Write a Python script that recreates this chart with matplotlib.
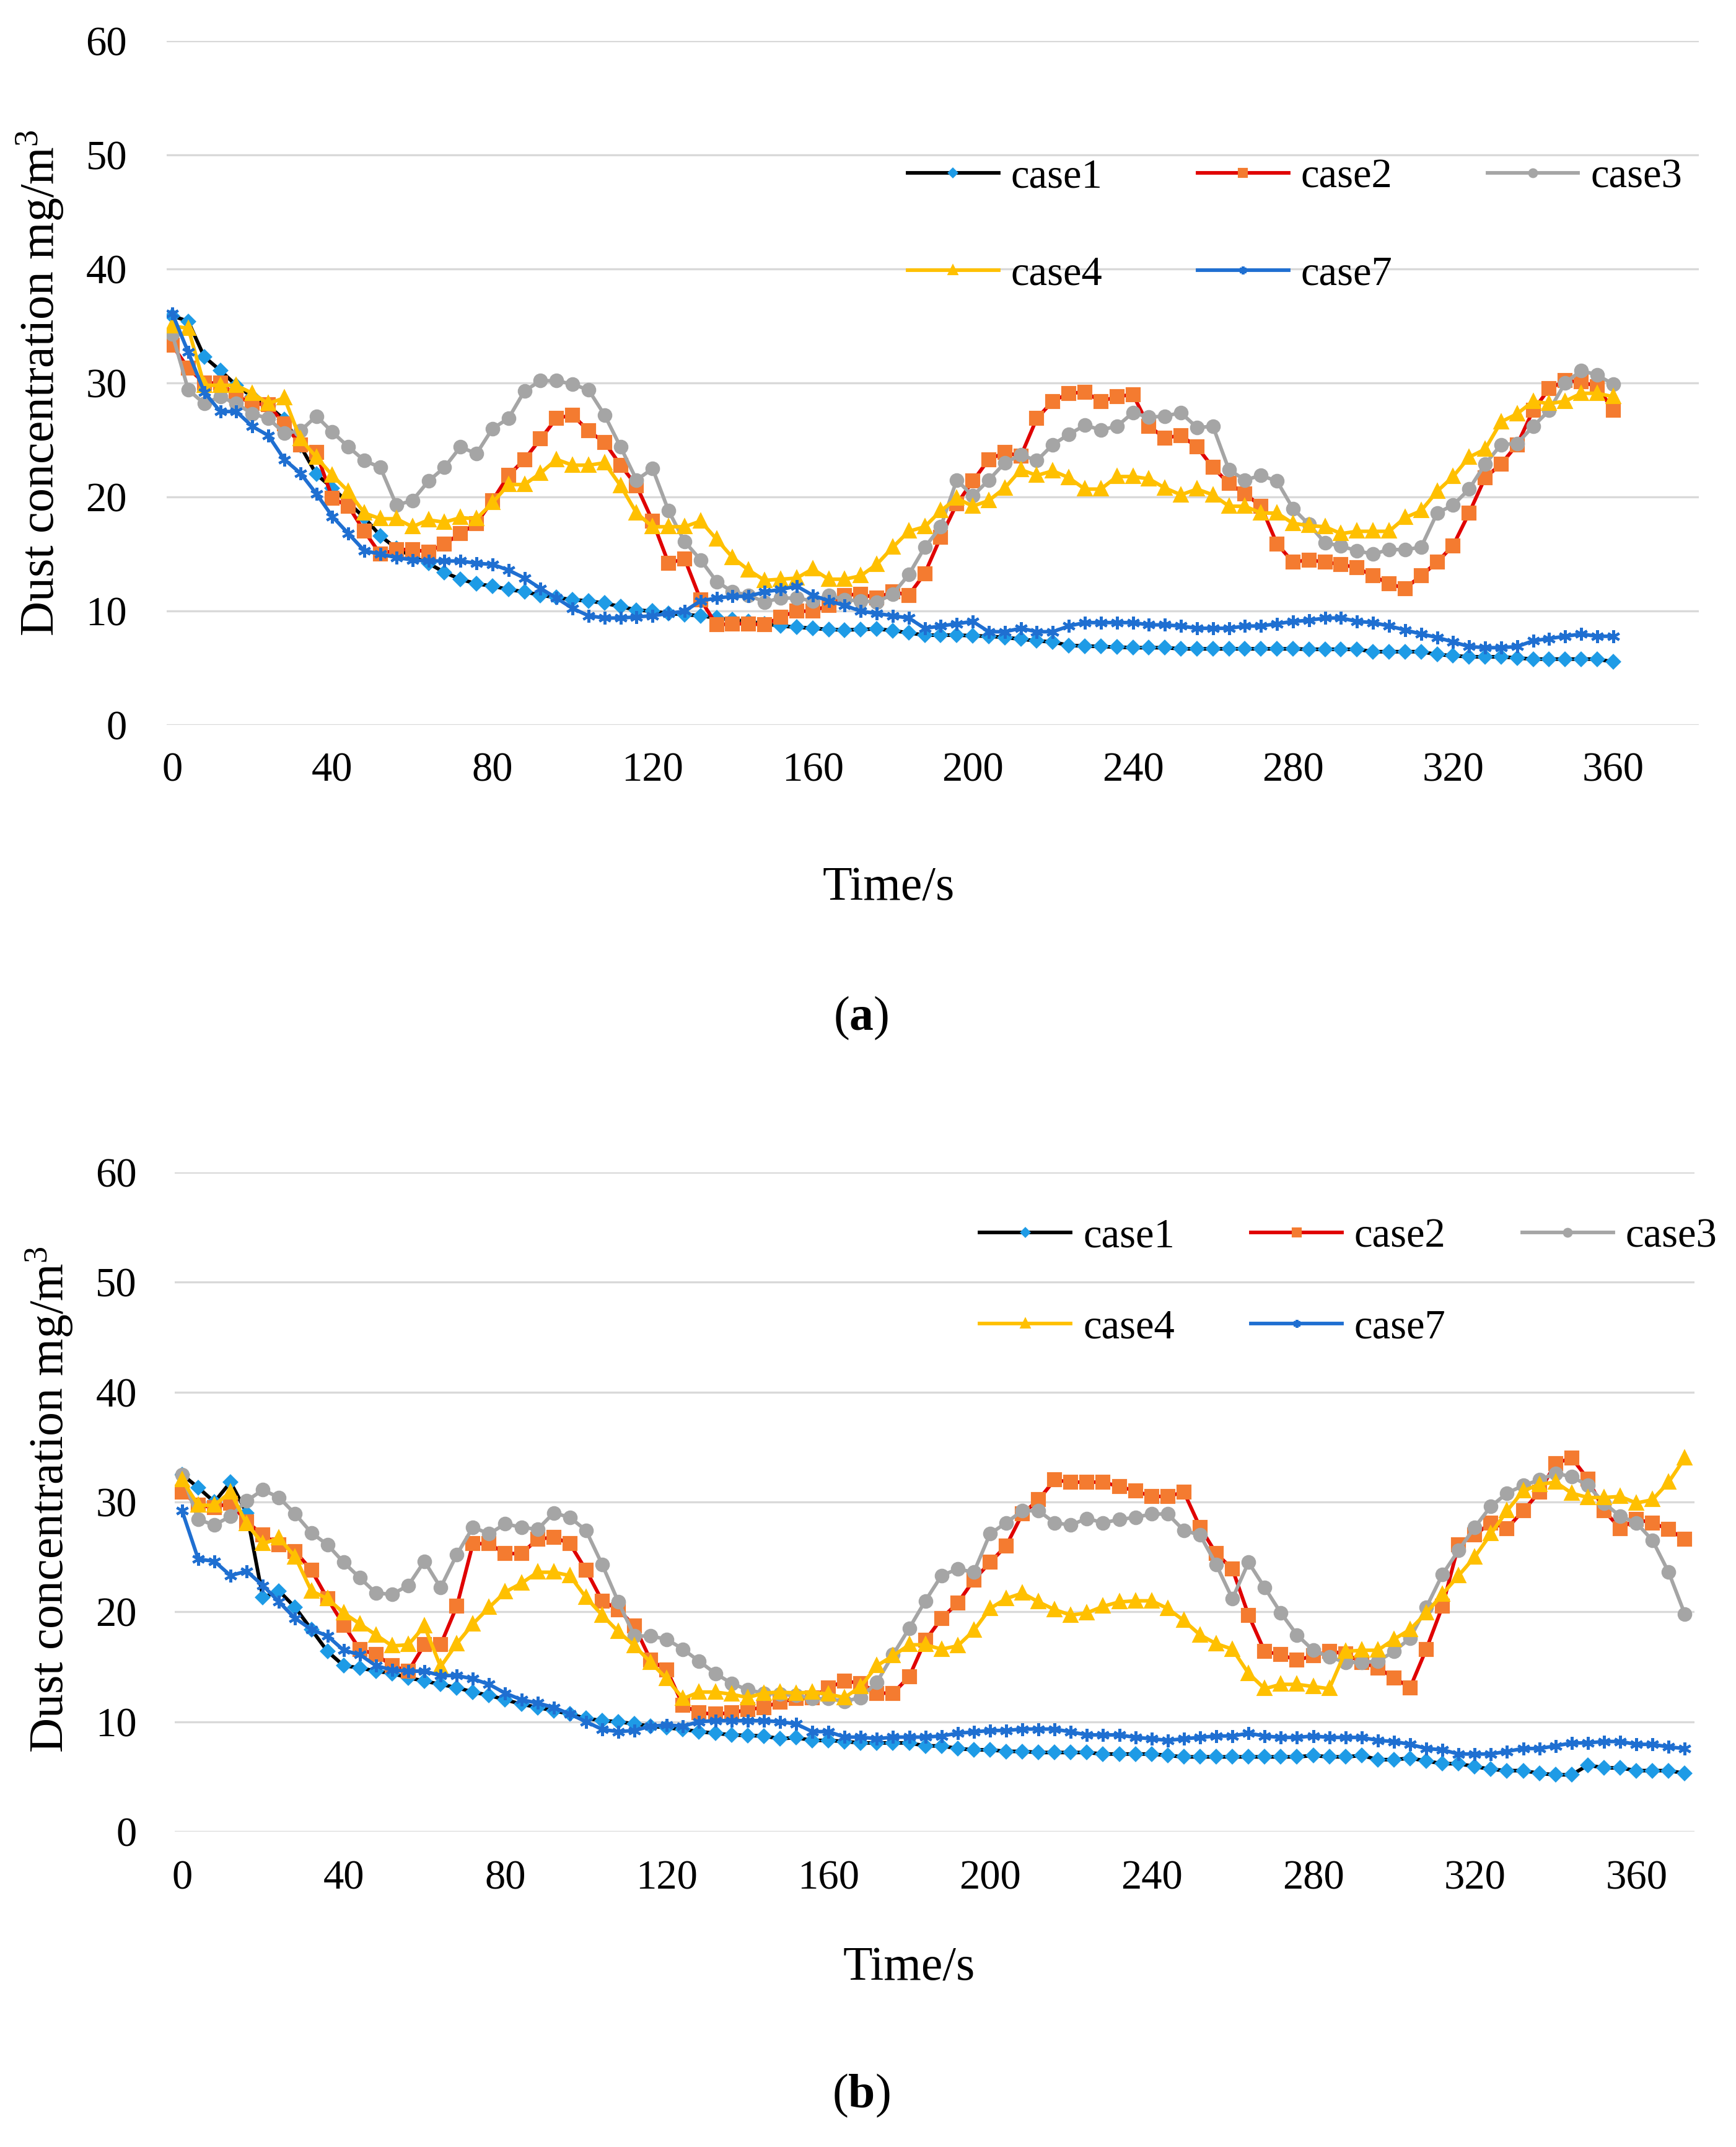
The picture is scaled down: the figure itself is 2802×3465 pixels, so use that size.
import numpy as np
import matplotlib
matplotlib.use("Agg")
import matplotlib.pyplot as plt

plt.rcParams["font.family"] = ["Liberation Serif", "DejaVu Serif"]
plt.rcParams["mathtext.fontset"] = "custom"
plt.rcParams["mathtext.rm"] = "Liberation Serif"
plt.rcParams["mathtext.bf"] = "Liberation Serif:bold"
plt.rcParams["mathtext.it"] = "Liberation Serif:italic"

# time stamps (s), one sample every 4 s
time_a = np.arange(0, 361, 4)
time_b = np.arange(0, 373, 4)
xticks = [0, 40, 80, 120, 160, 200, 240, 280, 320, 360]
yticks = [0, 10, 20, 30, 40, 50, 60]
labels = ["case1", "case2", "case3", "case4", "case7"]

# ---- panel (a) ----
a_case1 = [35.9, 35.4, 32.3, 31.1, 29.8, 28.8, 28.0, 26.8, 24.5, 22.0,
           20.8, 19.5, 18.2, 16.6, 15.5, 14.8, 14.2, 13.4, 12.8, 12.4,
           12.2, 11.9, 11.7, 11.4, 11.2, 11.0, 10.9, 10.7, 10.4, 10.1,
           10.0, 9.8, 9.7, 9.6, 9.4, 9.25, 9.1, 8.9, 8.7, 8.6,
           8.5, 8.4, 8.35, 8.4, 8.45, 8.3, 8.1, 7.9, 7.9, 7.9,
           7.85, 7.8, 7.7, 7.55, 7.4, 7.3, 7.0, 6.95, 6.9, 6.85,
           6.8, 6.8, 6.8, 6.7, 6.7, 6.7, 6.7, 6.7, 6.7, 6.7,
           6.7, 6.66, 6.66, 6.66, 6.66, 6.45, 6.45, 6.45, 6.45, 6.2,
           6.1, 6.0, 6.0, 6.0, 5.9, 5.8, 5.8, 5.8, 5.8, 5.8,
           5.55]
a_case2 = [33.3, 31.3, 30.0, 30.0, 28.9, 28.2, 28.1, 26.4, 24.6, 23.9,
           19.9, 19.2, 17.0, 15.0, 15.4, 15.4, 15.2, 15.9, 16.8, 17.7,
           19.7, 21.9, 23.3, 25.1, 26.9, 27.2, 25.8, 24.8, 22.8, 21.0,
           17.9, 14.2, 14.6, 11.0, 8.8, 8.9, 8.9, 8.8, 9.5, 10.0,
           10.0, 10.5, 11.4, 11.5, 11.15, 11.7, 11.4, 13.3, 16.5, 19.4,
           21.4, 23.3, 23.9, 23.6, 26.9, 28.4, 29.1, 29.2, 28.4, 28.8,
           29.0, 26.2, 25.2, 25.4, 24.4, 22.6, 21.2, 20.3, 19.2, 15.9,
           14.3, 14.5, 14.3, 14.1, 13.8, 13.1, 12.4, 12.0, 13.1, 14.3,
           15.75, 18.6, 21.7, 22.9, 24.6, 27.6, 29.5, 30.2, 30.1, 29.7,
           27.6]
a_case3 = [34.3, 29.4, 28.2, 28.8, 28.2, 27.3, 26.9, 25.6, 25.8, 27.1,
           25.7, 24.4, 23.2, 22.6, 19.3, 19.7, 21.4, 22.6, 24.4, 23.8,
           26.0, 26.9, 29.3, 30.2, 30.2, 29.9, 29.4, 27.2, 24.4, 21.5,
           22.5, 18.8, 16.1, 14.5, 12.6, 11.7, 11.4, 10.8, 11.15, 11.15,
           10.9, 11.4, 11.0, 10.9, 10.8, 11.5, 13.2, 15.6, 17.4, 21.5,
           20.1, 21.5, 23.0, 23.7, 23.2, 24.6, 25.5, 26.3, 25.9, 26.2,
           27.4, 27.0, 27.1, 27.4, 26.1, 26.2, 22.4, 21.5, 21.9, 21.4,
           19.0, 17.6, 16.0, 15.7, 15.3, 15.0, 15.4, 15.4, 15.6, 18.6,
           19.3, 20.7, 22.9, 24.6, 24.7, 26.2, 27.6, 30.0, 31.1, 30.7,
           29.9]
a_case4 = [35.0, 34.8, 29.8, 29.8, 29.8, 29.1, 28.2, 28.7, 25.1, 23.5,
           21.9, 20.5, 18.6, 18.1, 18.1, 17.4, 18.0, 17.8, 18.2, 18.1,
           19.5, 21.1, 21.1, 22.1, 23.3, 22.8, 22.8, 23.0, 21.0, 18.6,
           17.4, 17.4, 17.4, 17.9, 16.3, 14.7, 13.6, 12.7, 12.8, 12.9,
           13.7, 12.8, 12.8, 13.1, 14.1, 15.6, 17.0, 17.4, 18.8, 19.9,
           19.2, 19.7, 20.8, 22.4, 21.9, 22.3, 21.7, 20.7, 20.7, 21.8,
           21.8, 21.6, 20.8, 20.2, 20.7, 20.2, 19.2, 19.2, 18.6, 18.6,
           17.7, 17.5, 17.4, 16.8, 17.0, 17.0, 17.0, 18.2, 18.8, 20.5,
           21.8, 23.5, 24.2, 26.6, 27.3, 28.4, 28.2, 28.4, 29.1, 29.1,
           28.8]
a_case7 = [36.1, 32.7, 29.2, 27.5, 27.5, 26.2, 25.4, 23.3, 22.1, 20.3,
           18.3, 16.8, 15.3, 15.0, 14.7, 14.5, 14.4, 14.4, 14.4, 14.2,
           14.1, 13.6, 12.9, 12.0, 11.15, 10.25, 9.6, 9.4, 9.4, 9.5,
           9.6, 9.8, 10.0, 10.9, 11.15, 11.3, 11.3, 11.7, 11.9, 12.2,
           11.4, 10.9, 10.5, 10.0, 9.8, 9.6, 9.4, 8.5, 8.7, 8.9,
           9.1, 8.2, 8.2, 8.5, 8.2, 8.2, 8.7, 9.0, 9.0, 9.0,
           9.0, 8.8, 8.8, 8.7, 8.5, 8.5, 8.5, 8.7, 8.7, 8.9,
           9.1, 9.2, 9.4, 9.4, 9.1, 9.0, 8.7, 8.35, 8.0, 7.7,
           7.3, 6.9, 6.8, 6.8, 6.9, 7.4, 7.6, 7.8, 8.0, 7.8,
           7.8]

# ---- panel (b) ----
b_case1 = [32.5, 31.3, 30.0, 31.8, 29.0, 21.3, 21.9, 20.4, 18.4, 16.4,
           15.1, 14.9, 14.6, 14.4, 14.0, 13.7, 13.4, 13.1, 12.7, 12.4,
           12.0, 11.6, 11.3, 11.0, 10.7, 10.3, 10.1, 10.0, 9.8, 9.6,
           9.45, 9.3, 9.1, 8.95, 8.8, 8.75, 8.7, 8.45, 8.55, 8.3,
           8.3, 8.2, 8.07, 8.07, 8.07, 8.07, 7.8, 7.8, 7.56, 7.44,
           7.44, 7.3, 7.3, 7.2, 7.2, 7.2, 7.2, 7.06, 7.06, 7.06,
           7.06, 6.93, 6.8, 6.8, 6.8, 6.8, 6.8, 6.8, 6.8, 6.8,
           6.93, 6.8, 6.8, 6.93, 6.55, 6.55, 6.68, 6.43, 6.18, 6.18,
           5.92, 5.67, 5.55, 5.55, 5.3, 5.17, 5.17, 6.05, 5.8, 5.8,
           5.55, 5.55, 5.55, 5.3]
b_case2 = [30.9, 29.7, 29.5, 29.9, 28.2, 27.0, 26.1, 25.5, 23.8, 21.2,
           18.8, 16.6, 16.1, 15.1, 14.6, 17.0, 17.0, 20.5, 26.2, 26.2,
           25.3, 25.3, 26.6, 26.8, 26.2, 23.8, 21.0, 20.2, 18.7, 15.6,
           14.7, 11.5, 10.8, 10.7, 10.8, 11.1, 11.3, 11.8, 12.1, 12.2,
           13.1, 13.7, 13.5, 12.6, 12.6, 14.1, 17.4, 19.4, 20.8, 22.9,
           24.5, 26.0, 28.9, 30.2, 32.0, 31.8, 31.8, 31.8, 31.4, 31.0,
           30.5, 30.5, 30.9, 27.7, 25.3, 23.9, 19.7, 16.4, 16.1, 15.6,
           16.0, 16.4, 16.2, 15.4, 14.9, 14.0, 13.1, 16.6, 20.5, 26.1,
           27.0, 28.1, 27.6, 29.2, 30.9, 33.5, 34.0, 32.1, 29.2, 27.6,
           28.4, 28.1, 27.5, 26.6]
b_case3 = [32.5, 28.4, 27.9, 28.7, 30.1, 31.1, 30.4, 28.9, 27.2, 26.1,
           24.5, 23.1, 21.7, 21.6, 22.4, 24.6, 22.2, 25.2, 27.7, 27.1,
           28.0, 27.7, 27.5, 29.0, 28.6, 27.4, 24.3, 20.9, 17.8, 17.8,
           17.5, 16.6, 15.5, 14.4, 13.5, 12.9, 12.6, 12.5, 12.4, 12.1,
           12.1, 11.85, 12.2, 13.6, 16.1, 18.5, 21.0, 23.3, 23.9, 23.6,
           27.1, 28.1, 29.2, 29.2, 28.1, 27.9, 28.5, 28.1, 28.4, 28.6,
           28.9, 28.9, 27.4, 27.0, 24.3, 21.2, 24.5, 22.2, 19.9, 17.9,
           16.5, 15.9, 15.4, 15.4, 15.5, 16.4, 17.6, 20.4, 23.4, 25.6,
           27.7, 29.6, 30.8, 31.5, 32.0, 32.6, 32.3, 31.5, 29.9, 28.7,
           28.1, 26.5, 23.6, 19.8]
b_case4 = [32.0, 29.7, 29.7, 30.9, 28.0, 26.2, 26.7, 25.0, 21.9, 21.2,
           19.9, 18.9, 17.9, 16.9, 17.0, 18.7, 15.0, 17.1, 18.9, 20.4,
           21.8, 22.6, 23.6, 23.6, 23.3, 21.3, 19.7, 18.2, 16.9, 15.4,
           13.9, 12.1, 12.7, 12.7, 12.5, 12.2, 12.6, 12.7, 12.6, 12.7,
           12.5, 12.2, 13.2, 15.1, 16.0, 17.0, 17.0, 16.6, 16.9, 18.3,
           20.3, 21.2, 21.7, 20.9, 20.2, 19.7, 19.9, 20.5, 20.9, 21.0,
           21.0, 20.3, 19.2, 17.9, 17.1, 16.6, 14.4, 13.0, 13.4, 13.4,
           13.2, 13.0, 16.4, 16.5, 16.5, 17.5, 18.4, 19.9, 21.6, 23.3,
           25.0, 27.1, 29.2, 31.0, 31.6, 31.8, 30.8, 30.4, 30.4, 30.5,
           29.9, 30.2, 31.8, 34.0]
b_case7 = [29.2, 24.8, 24.6, 23.3, 23.7, 22.4, 20.9, 19.4, 18.4, 17.8,
           16.5, 16.1, 15.1, 14.7, 14.6, 14.6, 14.2, 14.2, 13.9, 13.4,
           12.6, 12.0, 11.7, 11.3, 10.7, 10.0, 9.3, 9.1, 9.2, 9.6,
           9.7, 9.6, 10.0, 10.1, 10.1, 10.1, 10.1, 10.0, 9.8, 9.1,
           9.1, 8.6, 8.6, 8.45, 8.6, 8.6, 8.6, 8.7, 8.95, 9.07,
           9.2, 9.2, 9.33, 9.33, 9.33, 9.07, 8.8, 8.8, 8.8, 8.57,
           8.45, 8.3, 8.45, 8.57, 8.7, 8.7, 8.95, 8.7, 8.57, 8.57,
           8.7, 8.57, 8.57, 8.57, 8.3, 8.2, 7.94, 7.56, 7.44, 7.06,
           7.06, 7.06, 7.3, 7.56, 7.56, 7.8, 8.07, 8.07, 8.2, 8.2,
           7.94, 7.94, 7.7, 7.56]

# line colour, marker, marker colour, marker size
styles = [
    ("#000000", "D", "#1E9BE6", 10),
    ("#E00000", "s", "#F47B30", 15),
    ("#A5A5A5", "o", "#A5A5A5", 14),
    ("#FFC000", "^", "#FFC000", 15),
    ("#1F6FD1", (6, 2, 0), "#1F6FD1", 15),
]


def draw_panel(ax, t, series, xlim, ypad, xpad):
    lines = []
    for vals, lab, (lc, mk, mc, ms) in zip(series, labels, styles):
        ln, = ax.plot(t, vals, color=lc, lw=4.2, marker=mk, ms=ms,
                      mfc=mc, mec=mc, mew=3, label=lab)
        lines.append(ln)
    ax.set_xlim(*xlim)
    ax.set_ylim(0, 60)
    ax.set_xticks(xticks)
    ax.set_yticks(yticks)
    ax.grid(axis="y", color="#D9D9D9", lw=2.4)
    ax.set_axisbelow(True)
    for s in ax.spines.values():
        s.set_visible(False)
    ax.tick_params(axis="both", length=0, labelsize=48)
    ax.tick_params(axis="y", pad=ypad)
    ax.tick_params(axis="x", pad=xpad)
    return lines


fig = plt.figure(figsize=(28.02, 34.65), dpi=100)

ax_a = fig.add_axes([0.0960, 0.6622, 0.8826, 0.3188])
lines_a = draw_panel(ax_a, time_a, [a_case1, a_case2, a_case3, a_case4, a_case7],
                     (-1.4, 381.4), 46, 31)

ax_b = fig.add_axes([0.1006, 0.1469, 0.8755, 0.3071])
lines_b = draw_panel(ax_b, time_b, [b_case1, b_case2, b_case3, b_case4, b_case7],
                     (-1.84, 374.4), 44, 33)

# row-major legend order for 3 columns
order = [0, 3, 1, 4, 2]
for ax, lines, anchor, colsp, rowsp in [
        (ax_a, lines_a, (0.5110, 0.9360), 2.3, 1.45),
        (ax_b, lines_b, (0.5525, 0.4425), 1.85, 1.3)]:
    leg = ax.legend([lines[i] for i in order], [labels[i] for i in order],
                    ncol=3, loc="upper left", bbox_to_anchor=anchor,
                    bbox_transform=fig.transFigure, frameon=False,
                    fontsize=48, handlelength=2.2, handletextpad=0.3,
                    columnspacing=colsp, labelspacing=rowsp, borderpad=0,
                    markerscale=0.6)

ylab = "Dust concentration mg/m$^3$"
fig.text(0.0230, 0.8216, ylab, rotation=90, ha="center", va="center", fontsize=56)
fig.text(0.0285, 0.3016, ylab, rotation=90, ha="center", va="center", fontsize=56)
fig.text(0.5118, 0.5862, "Time/s", ha="center", va="center", fontsize=56)
fig.text(0.5236, 0.0831, "Time/s", ha="center", va="center", fontsize=56)
fig.text(0.496, 0.5258, r"($\mathbf{a}$)", ha="center", va="center", fontsize=56)
fig.text(0.496, 0.0240, r"($\mathbf{b}$)", ha="center", va="center", fontsize=56)

fig.savefig("out.png", dpi=100, facecolor="white")
